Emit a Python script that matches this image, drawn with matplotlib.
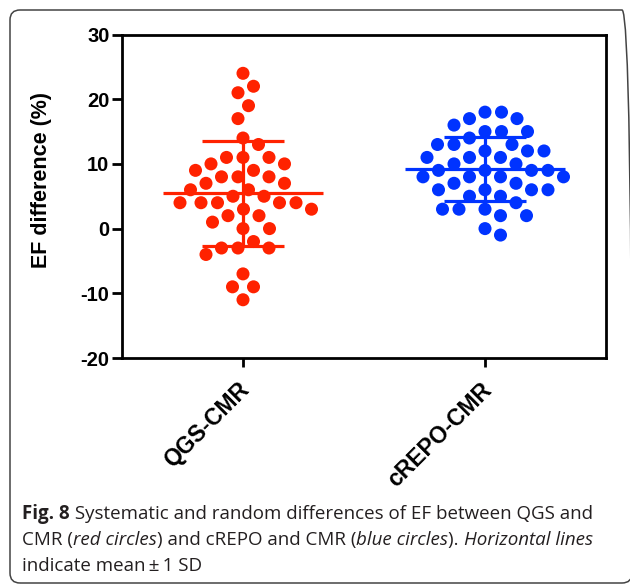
import numpy as np
import matplotlib
matplotlib.use("Agg")
import matplotlib.pyplot as plt
from matplotlib.patches import FancyBboxPatch
from matplotlib.transforms import IdentityTransform, ScaledTranslation

# EF differences (%) per comparison
groups = ["QGS-CMR", "cREPO-CMR"]
qgs_cmr = [24, 22, 21, 19, 17, 14, 13, 11, 11, 11, 10, 10, 9, 9, 8, 8, 8,
           7, 7, 6, 6, 5, 5, 4, 4, 4, 4, 4, 3, 3, 2, 2, 1, 0, 0, -2,
           -3, -3, -3, -4, -7, -9, -9, -11]
crepo_cmr = [18, 18, 17, 17, 16, 15, 15, 15, 14, 13, 13, 13, 12, 12, 12,
             11, 11, 11, 10, 10, 9, 9, 9, 9, 8, 8, 8, 8, 7, 7, 6, 6, 6, 6,
             5, 5, 4, 3, 3, 3, 2, 2, 0, -1]
y_ticks = [-20, -10, 0, 10, 20, 30]
colors = ["#FF2200", "#0033FF"]

W, H, DPI = 630, 584, 100
fig = plt.figure(figsize=(W / DPI, H / DPI), dpi=DPI)
ax = fig.add_axes([122 / W, 1 - 358 / H, 484 / W, 323.5 / H])
ax.set_xlim(-0.5, 1.5)
ax.set_ylim(-20, 30)

ytick_font = dict(family="Liberation Sans", weight="bold", size=14.5)
xtick_font = dict(family="Liberation Sans", weight="bold", size=16.5)
label_font = dict(family="Liberation Sans", weight="bold", size=15.5)


def swarm_offsets(values, center, collide_px):
    """Place points of one group side by side so they do not overlap."""
    vals = np.asarray(values, dtype=float)
    pix = ax.transData.transform(np.column_stack([np.full(len(vals), center), vals]))
    ys = pix[:, 1]
    placed = []
    xs = np.zeros(len(vals))
    steps = np.arange(0.5, 120, 0.5)
    cands = np.concatenate([[0.0], np.ravel(np.column_stack([steps, -steps]))])
    for i in np.argsort(-vals, kind="stable"):
        for c in cands:
            if all((c - px) ** 2 + (ys[i] - py) ** 2 >= collide_px ** 2
                   for (px, py) in placed):
                xs[i] = c
                placed.append((c, ys[i]))
                break
    px_per_x = ax.transData.transform([[1, 0]])[0, 0] - ax.transData.transform([[0, 0]])[0, 0]
    return center + xs / px_per_x


for k, (vals, col) in enumerate(zip([qgs_cmr, crepo_cmr], colors)):
    xs = swarm_offsets(vals, k, 16.5)
    ax.scatter(xs, vals, s=88, color=col, edgecolors="none", zorder=3)
    m = np.mean(vals)
    sd = np.std(vals, ddof=1)
    ax.hlines(m, k - 0.33, k + 0.33, color=col, lw=2.3, zorder=4)
    ax.hlines([m - sd, m + sd], k - 0.17, k + 0.17, color=col, lw=2.3, zorder=4)
    ax.vlines(k, m - sd, m + sd, color=col, lw=2.3, zorder=4)

for sp in ax.spines.values():
    sp.set_linewidth(2.0)
    sp.set_color("black")

ax.set_yticks(y_ticks)
ax.set_yticklabels([str(t) for t in y_ticks], fontdict=ytick_font)
ax.set_xticks([0, 1])
ax.set_xticklabels(groups, fontdict=xtick_font, rotation=45)
ax.tick_params(axis="y", direction="out", length=7, width=2, pad=2)
ax.tick_params(axis="x", direction="out", length=6.5, width=2, pad=14)
shift = ScaledTranslation(3 / DPI, 0, fig.dpi_scale_trans)
for lab in ax.get_xticklabels():
    lab.set_ha("right")
    lab.set_va("center")
    lab.set_rotation_mode("anchor")
    lab.set_transform(lab.get_transform() + shift)

fig.text(42 / W, 1 - 180 / H, "EF difference (%)", rotation=90,
         ha="center", va="center", **label_font)

# rounded frame around figure and caption
frame = FancyBboxPatch((10, 1), 622, 573, boxstyle="round,pad=0,rounding_size=10",
                       transform=IdentityTransform(), fill=False,
                       edgecolor="#444444", lw=1.1)
fig.patches.append(frame)

# caption with mixed bold / italic runs
cap_family = "Open Sans"
cap_size = 13.5
caption = [
    [("Fig. 8", "bold", "normal"),
     (" Systematic and random differences of EF between QGS and", "normal", "normal")],
    [("CMR (", "normal", "normal"), ("red circles", "normal", "italic"),
     (") and cREPO and CMR (", "normal", "normal"), ("blue circles", "normal", "italic"),
     ("). ", "normal", "normal"), ("Horizontal lines", "normal", "italic")],
    [("indicate mean\u2009\u00b1\u20091 SD", "normal", "normal")],
]
renderer = fig.canvas.get_renderer()
for li, runs in enumerate(caption):
    x = 22
    y = H - (519 + 26 * li)
    for txt, wt, st in runs:
        t = fig.text(x, y, txt, transform=IdentityTransform(), ha="left",
                     va="baseline", family=cap_family, size=cap_size,
                     weight=wt, style=st, color="#231f20")
        x = t.get_window_extent(renderer).x1

fig.savefig("out.png", dpi=DPI)
